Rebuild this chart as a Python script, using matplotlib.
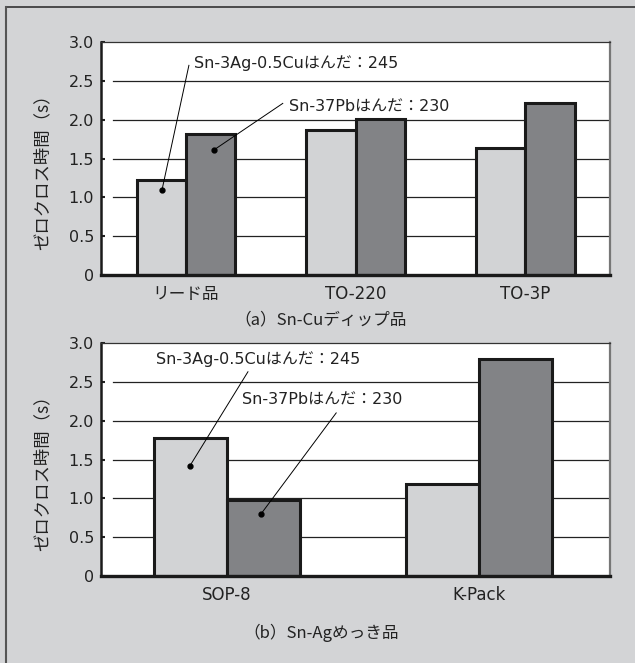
import matplotlib.pyplot as plt
from matplotlib.lines import Line2D

# data
cats_a = ['リード品', 'TO-220', 'TO-3P']
sac_a = [1.22, 1.87, 1.64]     # Sn-3Ag-0.5Cu
snpb_a = [1.81, 2.01, 2.21]    # Sn-37Pb
cats_b = ['SOP-8', 'K-Pack']
sac_b = [1.78, 1.19]
snpb_b = [0.98, 2.80]
yticks = [0, 0.5, 1.0, 1.5, 2.0, 2.5, 3.0]
ytick_labels = ['0', '0.5', '1.0', '1.5', '2.0', '2.5', '3.0']
lbl_sac = 'Sn-3Ag-0.5Cuはんだ：245'
lbl_snpb = 'Sn-37Pbはんだ：230'

BG = '#d3d4d6'
LIGHT = '#d2d3d5'
DARK = '#828386'
FONT = ['DejaVu Sans', 'Noto Sans CJK JP']
JFONT = ['Noto Sans CJK JP', 'DejaVu Sans']
plt.rcParams['font.family'] = FONT

fig = plt.figure(figsize=(6.35, 6.63), dpi=100, facecolor=BG)

# frame lines (top and left only)
fig.add_artist(Line2D([0.0094, 1], [0.9894, 0.9894], color='#333333', lw=1.2))
fig.add_artist(Line2D([0.0094, 0.0094], [0, 0.9894], color='#555555', lw=1.5))


def panel(rect, cats, v1, v2, xlim, notes):
    ax = fig.add_axes(rect)
    ax.set_facecolor('white')
    x = list(range(len(cats)))
    w = 0.29
    for y in yticks[1:-1]:
        ax.axhline(y, xmin=0.024, xmax=1, color='#222222', lw=0.9, zorder=1)
    ax.bar([i - w / 2 for i in x], v1, w, color=LIGHT, edgecolor='#1a1a1a', lw=2.2, zorder=3)
    ax.bar([i + w / 2 for i in x], v2, w, color=DARK, edgecolor='#1a1a1a', lw=2.2, zorder=3)
    ax.set_xlim(*xlim)
    ax.set_ylim(0, 3.0)
    ax.set_yticks(yticks)
    ax.set_yticklabels(ytick_labels)
    ax.set_xticks(x)
    ax.set_xticklabels(cats)
    ax.tick_params(axis='y', direction='in', length=3, width=1.5, pad=5, labelsize=11.5, colors='#222222')
    ax.tick_params(axis='x', length=0, pad=7, labelsize=12, colors='#222222')
    ax.spines['left'].set_linewidth(1.8)
    ax.spines['left'].set_color('#1a1a1a')
    ax.spines['bottom'].set_linewidth(2.4)
    ax.spines['bottom'].set_color('#1a1a1a')
    ax.spines['bottom'].set_zorder(4)
    ax.spines['top'].set_linewidth(0.9)
    ax.spines['top'].set_color('#333333')
    ax.spines['right'].set_linewidth(1.6)
    ax.spines['right'].set_color('#777777')
    ax.set_ylabel('ゼロクロス時間（s）', fontsize=12.5, color='#222222', family=JFONT)
    ax.yaxis.set_label_coords(-0.098, 0.46)
    for label, dot, end, txt in notes:
        ax.plot([dot[0], end[0]], [dot[1], end[1]], color='black', lw=0.7, zorder=5)
        ax.plot(dot[0], dot[1], 'o', color='black', ms=3.5, zorder=5)
        ax.text(txt[0], txt[1], label, ha='left', va='center', fontsize=11.5,
                color='#222222', zorder=5)
    return ax


notes_a = [
    (lbl_sac, (-0.141, 1.09), (0.018, 2.70), (0.05, 2.73)),
    (lbl_snpb, (0.165, 1.61), (0.571, 2.21), (0.61, 2.16)),
]
notes_b = [
    (lbl_sac, (-0.147, 1.42), (0.083, 2.63), (-0.282, 2.79)),
    (lbl_snpb, (0.135, 0.80), (0.433, 2.10), (0.06, 2.27)),
]

panel([0.159, 0.5852, 0.802, 0.3514], cats_a, sac_a, snpb_a, (-0.5, 2.5), notes_a)
panel([0.159, 0.1312, 0.802, 0.3514], cats_b, sac_b, snpb_b, (-0.5, 1.52), notes_b)

fig.text(0.505, 0.517, '（a）Sn-Cuディップ品', ha='center', va='center', fontsize=12,
         color='#222222', family=JFONT)
fig.text(0.505, 0.045, '（b）Sn-Agめっき品', ha='center', va='center', fontsize=12,
         color='#222222', family=JFONT)

fig.savefig('out.png', dpi=100, facecolor=BG)
